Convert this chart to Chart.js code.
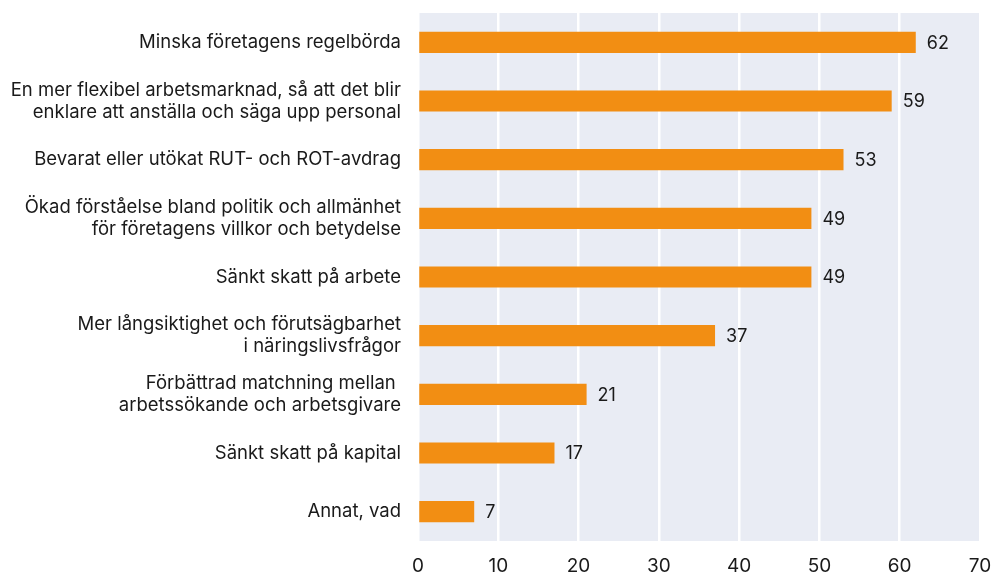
<!DOCTYPE html>
<html><head><meta charset="utf-8">
<script src="https://cdn.jsdelivr.net/npm/chart.js@4/dist/chart.umd.min.js"></script>
<style>html,body{margin:0;padding:0;background:#fff}#wrap{width:995px;height:575px}</style>
</head><body><div id="wrap"><canvas id="c"></canvas></div>
<script>
const categories = [
  "Minska företagens regelbörda",
  ["En mer flexibel arbetsmarknad, så att det blir", "enklare att anställa och säga upp personal"],
  "Bevarat eller utökat RUT- och ROT-avdrag",
  ["Ökad förståelse bland politik och allmänhet", "för företagens villkor och betydelse"],
  "Sänkt skatt på arbete",
  ["Mer långsiktighet och förutsägbarhet", "i näringslivsfrågor"],
  ["Förbättrad matchning mellan ", "arbetssökande och arbetsgivare"],
  "Sänkt skatt på kapital",
  "Annat, vad"
];
const values = [62, 59, 53, 49, 49, 37, 21, 17, 7];
const xTicks = [0, 10, 20, 30, 40, 50, 60, 70];

const bgPlugin = {
  id: 'bg',
  beforeDraw(chart) {
    const {ctx, chartArea: a} = chart;
    ctx.save(); ctx.fillStyle = '#e9ecf4';
    ctx.fillRect(a.left, a.top, a.right - a.left, a.bottom - a.top);
    ctx.restore();
  }
};
const valuePlugin = {
  id: 'vals',
  afterDatasetsDraw(chart) {
    const {ctx} = chart;
    const meta = chart.getDatasetMeta(0);
    ctx.save();
    ctx.font = '18px Inter';
    ctx.fillStyle = '#1a1a1a';
    ctx.textBaseline = 'middle';
    ctx.textAlign = 'left';
    meta.data.forEach((b, i) => {
      ctx.fillText(String(values[i]), b.x + 11, b.y + 1);
    });
    ctx.restore();
  }
};

new Chart(document.getElementById('c'), {
  type: 'bar',
  data: { labels: categories, datasets: [{ data: values, backgroundColor: '#f28e13', barPercentage: 0.72, categoryPercentage: 0.5 }] },
  options: {
    indexAxis: 'y', responsive: true, maintainAspectRatio: false, animation: false,
    layout: { padding: { top: 13, right: 15, bottom: 0, left: 0 } },
    plugins: { legend: { display: false }, tooltip: { enabled: false } },
    scales: {
      x: {
        min: 0, max: 70,
        afterBuildTicks(s) { s.ticks = xTicks.map(v => ({ value: v })); },
        afterFit(s) { s.paddingLeft = 0; s.paddingRight = 0; s.height = 34; },
        grid: { color: '#ffffff', lineWidth: 2.5, drawTicks: false },
        border: { display: false },
        ticks: { color: '#1a1a1a', font: { family: 'Inter', size: 19 }, padding: 14 }
      },
      y: {
        afterFit(s) { s.width = 418; s.paddingTop = 0; s.paddingBottom = 0; },
        grid: { display: false, drawTicks: false },
        border: { display: false },
        ticks: { color: '#1a1a1a', font: { family: 'Inter', size: 18.5, lineHeight: 1.19 }, padding: 17 }
      }
    }
  },
  plugins: [bgPlugin, valuePlugin]
});
</script></body></html>
